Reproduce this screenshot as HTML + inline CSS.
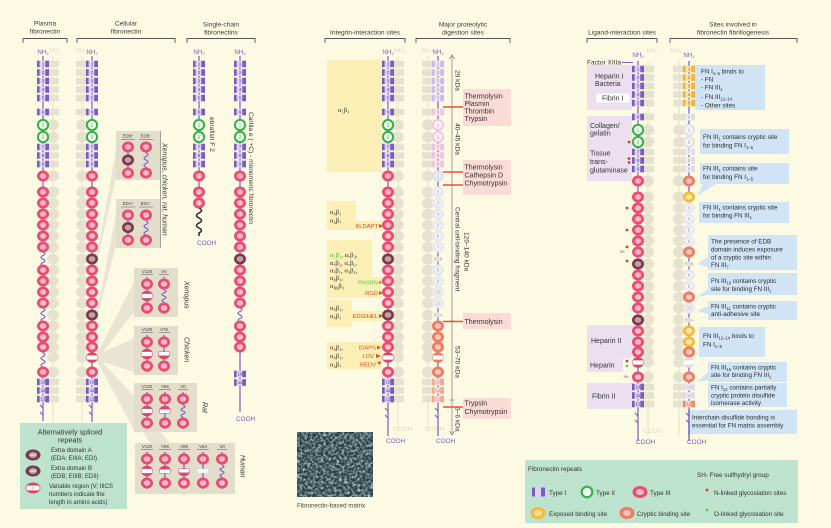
<!DOCTYPE html>
<html><head><meta charset="utf-8"><style>
html,body{margin:0;padding:0;background:#fdfae4}
svg{display:block}
text{font-family:"Liberation Sans","DejaVu Sans",sans-serif}
.h{font-size:6.6px;fill:#3b3b3b;text-anchor:middle}
.n text{font-size:4.4px;text-anchor:middle;fill:#fff}
.ni text{font-size:4.2px;text-anchor:middle;fill:#4f338f}
.n2 text{font-size:4.4px;text-anchor:middle;fill:#2c9a40}
.ng text{font-size:4.4px;text-anchor:middle;fill:#9a98a6}
.sp{stroke:#7a5bbf;stroke-width:1.2;fill:none}
.wv{stroke:#7a5bbf;stroke-width:1.1;fill:none}
.nh{font-size:6.2px;fill:#7a5bbf;text-anchor:middle}
.nhg{font-size:6.2px;fill:#dedac6;text-anchor:middle}
.co{font-size:6.4px;fill:#7a5bbf}
.cog{font-size:6.4px;fill:#dedac6}
.t7{font-size:7px;fill:#333}
.b{font-size:6.3px;fill:#2d2d2d}
.sm{font-size:4.4px;fill:#444;text-anchor:middle}
.al{font-family:"Liberation Serif","DejaVu Serif",serif;font-size:6.6px;fill:#333}
.or{font-size:5.8px;fill:#e0501c;text-anchor:end}
.vt{font-size:6.6px;fill:#333}
.it{font-size:7px;fill:#333;font-style:italic}
.lg{font-size:6.3px;fill:#333}
</style></head><body>
<svg width="831" height="528" viewBox="0 0 831 528" xmlns="http://www.w3.org/2000/svg">
<defs>
<g id="t1"><rect x="-6" y="-3.3" width="12" height="6.6" fill="#ddd2f1"/><rect x="-6" y="-3.3" width="2.6" height="6.6" fill="#7b5bc0"/><rect x="2.3" y="-3.3" width="3.7" height="6.6" fill="#7b5bc0"/></g>
<g id="t1p"><rect x="-6" y="-3.3" width="12" height="6.6" fill="#ebe3f6"/><rect x="-6" y="-3.3" width="2.6" height="6.6" fill="#cbb9e8"/><rect x="2.3" y="-3.3" width="3.7" height="6.6" fill="#cbb9e8"/></g>
<g id="t1k"><rect x="-6" y="-3.3" width="12" height="6.6" fill="#f8e2f0"/><rect x="-6" y="-3.3" width="2.6" height="6.6" fill="#efc2de"/><rect x="2.3" y="-3.3" width="3.7" height="6.6" fill="#efc2de"/></g>
<g id="t1s"><rect x="-6" y="-3.3" width="12" height="6.6" fill="#fcdcd0"/><rect x="-6" y="-3.3" width="2.6" height="6.6" fill="#f4a690"/><rect x="2.3" y="-3.3" width="3.7" height="6.6" fill="#f4a690"/></g>
<g id="t1y"><rect x="-6" y="-3.3" width="12" height="6.6" fill="#fce3a4"/><rect x="-6" y="-3.3" width="2.6" height="6.6" fill="#f2b43a"/><rect x="2.3" y="-3.3" width="3.7" height="6.6" fill="#f2b43a"/></g>
<g id="t1g"><rect x="-6" y="-3.3" width="12" height="6.6" fill="#efeef3"/><rect x="-6" y="-3.3" width="2.6" height="6.6" fill="#dedde6"/><rect x="2.3" y="-3.3" width="3.7" height="6.6" fill="#dedde6"/></g>
<g id="t1c"><rect x="-6" y="-3.3" width="12" height="6.6" fill="#fcd6c8"/><rect x="-6" y="-3.3" width="2.6" height="6.6" fill="#f08b70"/><rect x="2.3" y="-3.3" width="3.7" height="6.6" fill="#f08b70"/></g>
<g id="t2"><circle r="5.1" fill="#f0f9ee" stroke="#35b14b" stroke-width="2"/></g>
<g id="t2k"><circle r="5.1" fill="#fdf0f7" stroke="#f3c3de" stroke-width="1.8"/></g>
<g id="t2g"><circle r="5.1" fill="#f4f3f7" stroke="#e0dfe7" stroke-width="1.8"/></g>
<g id="t3"><ellipse rx="6" ry="5.5" fill="#eb4b6f"/><ellipse rx="3.3" ry="2.9" fill="#f6a8bb"/></g>
<g id="t3b"><ellipse rx="6" ry="5.5" fill="#dde0f0"/><ellipse rx="3.3" ry="2.9" fill="#eff0f8"/></g>
<g id="t3g"><ellipse rx="6" ry="5.5" fill="#e9e8ef"/><ellipse rx="3.3" ry="2.9" fill="#f5f4f8"/></g>
<g id="t3s"><ellipse rx="6" ry="5.5" fill="#f07a62"/><ellipse rx="3.3" ry="2.9" fill="#f9b9a8"/></g>
<g id="t3y"><ellipse rx="6" ry="5.5" fill="#f5ba38"/><ellipse rx="3.3" ry="2.9" fill="#fde19a"/></g>
<g id="ed"><ellipse rx="6" ry="5.5" fill="#7a3a4c"/><ellipse rx="3.3" ry="2.9" fill="#c4a0aa"/></g>
<g id="v"><ellipse rx="6" ry="5.3" fill="#d8486a"/><rect x="-5.4" y="-2.1" width="10.8" height="4.2" rx="1" fill="#fff"/></g>
<g id="vh"><path d="M-6 0A6 5.3 0 0 1 6 0Z" fill="#d8486a"/><rect x="-5.6" y="-1.8" width="11.2" height="4.2" rx="1" fill="#fff" stroke="#d8486a" stroke-width=".5"/></g>
<g id="vl"><path d="M-6 0A6 5.3 0 0 0 6 0Z" fill="#d8486a"/><rect x="-5.6" y="-2.4" width="11.2" height="4.2" rx="1" fill="#fff" stroke="#d8486a" stroke-width=".5"/></g>
<g id="vw"><rect x="-5.6" y="-2" width="11.2" height="4" rx="1" fill="#fff" stroke="#ccc" stroke-width=".4"/></g>
<g id="vs"><ellipse rx="6" ry="5.3" fill="#f07a62"/><rect x="-5.4" y="-2.1" width="10.8" height="4.2" rx="1" fill="#fff"/></g>
<g id="vg"><ellipse rx="6" ry="5.3" fill="#dddce5"/><rect x="-5.4" y="-2.1" width="10.8" height="4.2" rx="1" fill="#fff"/></g>
<g id="gI"><rect x="-6" y="-3.3" width="12" height="6.6" fill="#e6e2cf"/></g>
<g id="gC"><ellipse rx="6" ry="5.5" fill="#e6e2cf"/></g>
<g id="top">
<use href="#t1" y="64"/><use href="#t1" y="72.5"/><use href="#t1" y="81"/><use href="#t1" y="89.5"/><use href="#t1" y="98"/>
<use href="#t1" y="112"/><use href="#t2" y="125"/><use href="#t2" y="137"/>
<use href="#t1" y="147"/><use href="#t1" y="155.5"/><use href="#t1" y="164"/>
</g>
<g id="midF">
<use href="#t3" y="176"/><use href="#t3" y="192"/><use href="#t3" y="203"/><use href="#t3" y="214"/><use href="#t3" y="225"/><use href="#t3" y="236"/><use href="#t3" y="247"/>
<use href="#ed" y="259"/>
<use href="#t3" y="270"/><use href="#t3" y="281"/><use href="#t3" y="292"/><use href="#t3" y="303"/>
<use href="#ed" y="315"/>
<use href="#t3" y="326"/><use href="#t3" y="337"/><use href="#t3" y="347"/>
<use href="#v" y="357.5"/>
<use href="#t3" y="372"/>
<use href="#t1" y="382"/><use href="#t1" y="390.5"/><use href="#t1" y="399"/>
</g>
<g id="ghost">
<path d="M0 56V430" stroke="#e6e2cf" stroke-width="1.2"/>
<use href="#gI" y="64"/><use href="#gI" y="72.5"/><use href="#gI" y="81"/><use href="#gI" y="89.5"/><use href="#gI" y="98"/><use href="#gI" y="112"/>
<use href="#gC" y="125"/><use href="#gC" y="137"/>
<use href="#gI" y="147"/><use href="#gI" y="155.5"/><use href="#gI" y="164"/>
<use href="#gC" y="176"/><use href="#gC" y="192"/><use href="#gC" y="203"/><use href="#gC" y="214"/><use href="#gC" y="225"/><use href="#gC" y="236"/><use href="#gC" y="247"/><use href="#gC" y="259"/><use href="#gC" y="270"/><use href="#gC" y="281"/><use href="#gC" y="292"/><use href="#gC" y="303"/><use href="#gC" y="315"/><use href="#gC" y="326"/><use href="#gC" y="337"/><use href="#gC" y="347"/><use href="#gC" y="357"/><use href="#gC" y="372"/>
<use href="#gI" y="382"/><use href="#gI" y="390.5"/><use href="#gI" y="399"/>
</g>
<filter id="tex" x="0" y="0" width="1" height="1">
<feTurbulence type="fractalNoise" baseFrequency="0.38" numOctaves="3" seed="7" result="n"/>
<feColorMatrix in="n" type="matrix" values="0 0 0 0 0.66  0 0 0 0 0.80  0 0 0 0 0.80  2.0 0 0 0 -0.78"/>
</filter>
</defs>

<rect width="831" height="528" fill="#fdfae4"/>

<!-- HEADERS -->
<text class="h" x="45" y="25.5">Plasma</text><text class="h" x="45" y="33.5">fibronectin</text>
<text class="h" x="126" y="25.5">Cellular</text><text class="h" x="126" y="33.5">fibronectin</text>
<text class="h" x="221" y="26.5">Single-chain</text><text class="h" x="221" y="34.5">fibronectins</text>
<text class="h" x="365" y="34.3">Integrin-interaction sites</text>
<text class="h" x="463" y="26.5">Major proteolytic</text><text class="h" x="463" y="34.3">digestion sites</text>
<text class="h" x="622" y="34.3">Ligand-interaction sites</text>
<text class="h" x="733" y="26.5">Sites involved in</text><text class="h" x="733" y="34.3">fibronectin fibrillogenesis</text>
<g stroke="#555" stroke-width=".9" fill="none">
<path d="M23 43V38.5H67V43"/><path d="M77 43V38.5H175V43"/><path d="M187 43V38.5H255V43"/>
<path d="M325 43V38.5H405V43"/><path d="M416 43V38.5H510V43"/>
<path d="M587 43V38.5H657V43"/><path d="M670 43V38.5H797V43"/>
</g>

<!-- LEFT PANEL: fans and boxes -->
<g fill="#e6e2cf" opacity=".85">
<polygon points="97,256 97,262 116,178 116,150"/>
<polygon points="97,312 97,318 116,246 116,214"/>
<polygon points="97,354 97,360 134,312 134,282"/>
<polygon points="97,355 97,360 134,372 134,338"/>
<polygon points="97,356 97,361 134,430 134,396"/>
<polygon points="97,357 97,362 150,443 170,443"/>
</g>
<g fill="#e2decb">
<rect x="116" y="131" width="44" height="49"/>
<rect x="116" y="199" width="44" height="49"/>
<rect x="134" y="268" width="44" height="49"/>
<rect x="134" y="326" width="44" height="49"/>
<rect x="134" y="383" width="63" height="49"/>
<rect x="135" y="443" width="100" height="51"/>
</g>
<path d="M160.5 131V248" stroke="#666" stroke-width=".6"/>
<!-- EDB box -->
<text class="sm" x="128" y="137.5">EDB<tspan font-size="3" dy="-1.5">+</tspan></text><text class="sm" x="146" y="137.5">EDB<tspan font-size="3" dy="-1.5">−</tspan></text>
<path d="M121 139.5H135M139 139.5H153" stroke="#555" stroke-width=".5"/>
<path d="M128 142V178M146 142V153M146 167V178" class="sp"/>
<path d="M146 153q4 1.75 0 3.5t0 3.5t0 3.5t0 3.5" class="wv"/>
<use href="#t3" x="128" y="147"/><use href="#ed" x="128" y="160"/><use href="#t3" x="128" y="173"/>
<use href="#t3" x="146" y="147"/><use href="#t3" x="146" y="173"/>
<g class="n"><text x="128" y="148.5">7</text><text x="128" y="174.5">8</text><text x="146" y="148.5">7</text><text x="146" y="174.5">8</text></g>
<!-- EDA box -->
<text class="sm" x="128" y="205">EDA<tspan font-size="3" dy="-1.5">+</tspan></text><text class="sm" x="146" y="205">EDA<tspan font-size="3" dy="-1.5">−</tspan></text>
<path d="M121 207H135M139 207H153" stroke="#555" stroke-width=".5"/>
<path d="M128 210V246M146 210V221M146 235V246" class="sp"/>
<path d="M146 221q4 1.75 0 3.5t0 3.5t0 3.5t0 3.5" class="wv"/>
<use href="#t3" x="128" y="215"/><use href="#ed" x="128" y="227.5"/><use href="#t3" x="128" y="240"/>
<use href="#t3" x="146" y="215"/><use href="#t3" x="146" y="240"/>
<g class="n"><text x="128" y="216.5">11</text><text x="128" y="241.5">12</text><text x="146" y="216.5">11</text><text x="146" y="241.5">12</text></g>
<text class="it" transform="translate(162.5 143) rotate(90)">Xenopus, chicken, rat, human</text>
<!-- Xenopus -->
<text class="sm" x="147" y="273">V120</text><text class="sm" x="164" y="273">V0</text>
<path d="M141 274.5H153M159 274.5H169" stroke="#555" stroke-width=".5"/>
<path d="M147 277V314M164 277V290M164 302V314" class="sp"/>
<path d="M164 290q4 1.5 0 3t0 3t0 3t0 3" class="wv"/>
<use href="#t3" x="147" y="284"/><use href="#v" x="147" y="296"/><use href="#t3" x="147" y="308"/>
<use href="#t3" x="164" y="284"/><use href="#t3" x="164" y="308"/>
<g class="n"><text x="147" y="285.5">14</text><text x="147" y="309.5">15</text><text x="164" y="285.5">14</text><text x="164" y="309.5">15</text></g>
<text class="it" transform="translate(184.5 281) rotate(90)">Xenopus</text>
<!-- Chicken -->
<text class="sm" x="147" y="331">V120</text><text class="sm" x="164" y="331">V76</text>
<path d="M141 332.5H153M159 332.5H170" stroke="#555" stroke-width=".5"/>
<path d="M147 335V372M164 335V372" class="sp"/>
<use href="#t3" x="147" y="342"/><use href="#v" x="147" y="354"/><use href="#t3" x="147" y="366"/>
<use href="#t3" x="164" y="342"/><use href="#vl" x="164" y="354"/><use href="#t3" x="164" y="366"/>
<g class="n"><text x="147" y="343.5">14</text><text x="147" y="367.5">15</text><text x="164" y="343.5">14</text><text x="164" y="367.5">15</text></g>
<text class="it" transform="translate(184.5 337) rotate(90)">Chicken</text>
<!-- Rat -->
<text class="sm" x="147" y="388">V120</text><text class="sm" x="165" y="388">V95</text><text class="sm" x="183" y="388">V0</text>
<path d="M141 389.5H153M159 389.5H171M178 389.5H188" stroke="#555" stroke-width=".5"/>
<path d="M147 392V429M165 392V429M183 392V405M183 417V429" class="sp"/>
<path d="M183 405q4 1.5 0 3t0 3t0 3t0 3" class="wv"/>
<use href="#t3" x="147" y="399"/><use href="#v" x="147" y="411"/><use href="#t3" x="147" y="423"/>
<use href="#t3" x="165" y="399"/><use href="#vh" x="165" y="411"/><use href="#t3" x="165" y="423"/>
<use href="#t3" x="183" y="399"/><use href="#t3" x="183" y="423"/>
<g class="n"><text x="147" y="400.5">14</text><text x="147" y="424.5">15</text><text x="165" y="400.5">14</text><text x="165" y="424.5">15</text><text x="183" y="400.5">14</text><text x="183" y="424.5">15</text></g>
<text class="it" transform="translate(202.5 402) rotate(90)">Rat</text>
<!-- Human -->
<text class="sm" x="147" y="448">V120</text><text class="sm" x="165" y="448">V95</text><text class="sm" x="184" y="448">V89</text><text class="sm" x="203" y="448">V64</text><text class="sm" x="222" y="448">V0</text>
<path d="M141 449.5H153M159 449.5H171M178 449.5H190M197 449.5H209M217 449.5H227" stroke="#555" stroke-width=".5"/>
<path d="M147 452V489M165 452V489M184 452V489M203 452V489M222 452V465M222 477V489" class="sp"/>
<path d="M222 465q4 1.5 0 3t0 3t0 3t0 3" class="wv"/>
<use href="#t3" x="147" y="459"/><use href="#v" x="147" y="471"/><use href="#t3" x="147" y="483"/>
<use href="#t3" x="165" y="459"/><use href="#vh" x="165" y="471"/><use href="#t3" x="165" y="483"/>
<use href="#t3" x="184" y="459"/><use href="#vl" x="184" y="471"/><use href="#t3" x="184" y="483"/>
<use href="#t3" x="203" y="459"/><use href="#vw" x="203" y="471"/><use href="#t3" x="203" y="483"/>
<use href="#t3" x="222" y="459"/><use href="#t3" x="222" y="483"/>
<g class="n"><text x="147" y="460.5">14</text><text x="147" y="484.5">15</text><text x="165" y="460.5">14</text><text x="165" y="484.5">15</text><text x="184" y="460.5">14</text><text x="184" y="484.5">15</text><text x="203" y="460.5">14</text><text x="203" y="484.5">15</text><text x="222" y="460.5">14</text><text x="222" y="484.5">15</text></g>
<text class="it" transform="translate(240.5 455) rotate(90)">Human</text>

<!-- CHAIN A plasma x=43 -->
<use href="#ghost" x="53"/>
<text class="nhg" x="55" y="52.5">NH<tspan font-size="4" dy="1.2">2</tspan></text>
<text class="nh" x="43" y="54">NH<tspan font-size="4" dy="1.2">2</tspan></text>
<path d="M43 56V252M43 266V308M43 322V353M43 367V421" class="sp"/>
<path d="M43 252q4 1.75 0 3.5t0 3.5t0 3.5t0 3.5M43 308q4 1.75 0 3.5t0 3.5t0 3.5t0 3.5M43 353q4 1.75 0 3.5t0 3.5t0 3.5t0 3.5M43 408l-3 -3M43 415l-3 -3" class="wv"/>
<use href="#top" x="43"/>
<g transform="translate(43 0)">
<use href="#t3" y="176"/><use href="#t3" y="192"/><use href="#t3" y="203"/><use href="#t3" y="214"/><use href="#t3" y="225"/><use href="#t3" y="236"/><use href="#t3" y="247"/>
<use href="#t3" y="270"/><use href="#t3" y="281"/><use href="#t3" y="292"/><use href="#t3" y="303"/>
<use href="#t3" y="326"/><use href="#t3" y="337"/><use href="#t3" y="347"/><use href="#t3" y="372"/>
<use href="#t1" y="382"/><use href="#t1" y="390.5"/><use href="#t1" y="399"/>
<g class="ni"><text y="65.5">1</text><text y="74">2</text><text y="82.5">3</text><text y="91">4</text><text y="99.5">5</text><text y="113.5">6</text><text y="148.5">7</text><text y="157">8</text><text y="165.5">9</text><text y="383.5">10</text><text y="392">11</text><text y="400.5">12</text></g>
<g class="n2"><text y="126.5">1</text><text y="138.5">2</text></g>
<g class="n"><text y="177.5">1</text><text y="193.5">2</text><text y="204.5">3</text><text y="215.5">4</text><text y="226.5">5</text><text y="237.5">6</text><text y="248.5">7</text><text y="271.5">8</text><text y="282.5">9</text><text y="293.5">10</text><text y="304.5">11</text><text y="327.5">12</text><text y="338.5">13</text><text y="348.5">14</text><text y="373.5">15</text></g>
</g>

<!-- CHAIN B cellular x=92 -->
<use href="#ghost" x="82"/>
<text class="nhg" x="81" y="52.5">NH<tspan font-size="4" dy="1.2">2</tspan></text>
<text class="nh" x="92" y="54">NH<tspan font-size="4" dy="1.2">2</tspan></text>
<path d="M92 56V422" class="sp"/>
<path d="M92 408l-3 -3M92 415l-3 -3" class="wv"/>
<use href="#top" x="92"/><use href="#midF" x="92"/>
<g transform="translate(92 0)">
<g class="ni"><text y="65.5">1</text><text y="74">2</text><text y="82.5">3</text><text y="91">4</text><text y="99.5">5</text><text y="113.5">6</text><text y="148.5">7</text><text y="157">8</text><text y="165.5">9</text><text y="383.5">10</text><text y="392">11</text><text y="400.5">12</text></g>
<g class="n2"><text y="126.5">1</text><text y="138.5">2</text></g>
<g class="n"><text y="177.5">1</text><text y="193.5">2</text><text y="204.5">3</text><text y="215.5">4</text><text y="226.5">5</text><text y="237.5">6</text><text y="248.5">7</text><text y="271.5">8</text><text y="282.5">9</text><text y="293.5">10</text><text y="304.5">11</text><text y="327.5">12</text><text y="338.5">13</text><text y="348.5">14</text><text y="373.5">15</text></g>
</g>

<!-- CHAIN C zebrafish x=199 -->
<text class="nh" x="199" y="54">NH<tspan font-size="4" dy="1.2">2</tspan></text>
<path d="M199 56V209" class="sp"/>
<path d="M199 208q5 2.5 0 5t0 5t0 5t0 5t0 5V236" stroke="#222" stroke-width="1.5" fill="none"/>
<use href="#top" x="199"/>
<g transform="translate(199 0)">
<use href="#t3" y="176"/><use href="#t3" y="192"/><use href="#t3" y="203"/>
<g class="ni"><text y="65.5">1</text><text y="74">2</text><text y="82.5">3</text><text y="91">4</text><text y="99.5">5</text><text y="113.5">6</text><text y="148.5">7</text><text y="157">8</text><text y="165.5">9</text></g>
<g class="n2"><text y="126.5">1</text><text y="138.5">2</text></g>
<g class="n"><text y="177.5">1</text><text y="193.5">2</text><text y="204.5">3</text></g>
</g>
<text class="co" x="197" y="245">COOH</text>
<text class="vt" font-size="7" transform="translate(210 117) rotate(90)">ebrafish F 2</text>

<!-- CHAIN D cartilage x=240 -->
<text class="nh" x="240" y="54">NH<tspan font-size="4" dy="1.2">2</tspan></text>
<path d="M240 56V308M240 322V412" class="sp"/>
<path d="M240 308q4 1.75 0 3.5t0 3.5t0 3.5t0 3.5" class="wv"/>
<use href="#top" x="240"/>
<g transform="translate(240 0)">
<use href="#t3" y="176"/><use href="#t3" y="192"/><use href="#t3" y="203"/><use href="#t3" y="214"/><use href="#t3" y="225"/><use href="#t3" y="236"/><use href="#t3" y="247"/>
<use href="#ed" y="259"/>
<use href="#t3" y="270"/><use href="#t3" y="281"/><use href="#t3" y="292"/><use href="#t3" y="303"/>
<use href="#t3" y="326"/><use href="#t3" y="337"/><use href="#t3" y="347"/>
<use href="#t1" y="374"/><use href="#t1" y="382.5"/>
<g class="ni"><text y="65.5">1</text><text y="74">2</text><text y="82.5">3</text><text y="91">4</text><text y="99.5">5</text><text y="113.5">6</text><text y="148.5">7</text><text y="157">8</text><text y="165.5">9</text><text y="375.5">10</text><text y="384">11</text></g>
<g class="n2"><text y="126.5">1</text><text y="138.5">2</text></g>
<g class="n"><text y="177.5">1</text><text y="193.5">2</text><text y="204.5">3</text><text y="215.5">4</text><text y="226.5">5</text><text y="237.5">6</text><text y="248.5">7</text><text y="271.5">8</text><text y="282.5">9</text><text y="293.5">10</text><text y="304.5">11</text><text y="327.5">12</text><text y="338.5">13</text><text y="348.5">15</text></g>
</g>
<text class="co" x="236" y="421">COOH</text>
<text class="vt" transform="translate(249 112) rotate(90)">Cartila e ( +C) - monomeric fibronectin</text>

<!-- LEFT LEGEND -->
<rect x="20" y="423" width="107" height="86" fill="#bde3cf"/>
<text x="70" y="434.5" font-size="7.3" fill="#333" text-anchor="middle">Alternatively spliced</text>
<text x="70" y="442.5" font-size="7.3" fill="#333" text-anchor="middle">repeats</text>
<ellipse cx="33" cy="455" rx="7.5" ry="5.5" fill="#7a3a4c"/><ellipse cx="33" cy="455" rx="4" ry="3" fill="#c4a0aa"/>
<text x="33" y="456.2" font-size="3" fill="#fff" text-anchor="middle">EDA</text>
<ellipse cx="33" cy="471" rx="7.5" ry="5.5" fill="#7a3a4c"/><ellipse cx="33" cy="471" rx="4" ry="3" fill="#c4a0aa"/>
<text x="33" y="472.2" font-size="3" fill="#fff" text-anchor="middle">EDB</text>
<ellipse cx="33" cy="488" rx="7.5" ry="5.5" fill="#d8486a"/><rect x="26.5" y="485.6" width="13" height="4.8" rx="1" fill="#fff"/>
<text x="33" y="489.4" font-size="3.4" fill="#d8486a" text-anchor="middle">V</text>
<g font-size="6" fill="#333">
<text x="51" y="452">Extra domain A</text><text x="51" y="460">(EDA; EIIIA; EDI)</text>
<text x="51" y="470">Extra domain B</text><text x="51" y="478">(EDB; EIIIB; EDII)</text>
<text x="49" y="488">Variable region (V; IIICS</text><text x="49" y="496">numbers indicate the</text><text x="49" y="504">length in amino acids)</text>
</g>

<!-- MIDDLE PANEL: integrin -->
<g fill="#fcefb6">
<rect x="327" y="60" width="55" height="112"/>
<polygon points="327,201 356,201 356,221 382,221 382,230 327,230"/>
<polygon points="327,240 372,240 372,277 382,277 382,298 327,298"/>
<polygon points="327,300 352,300 352,311 382,311 382,321 352,321 352,327 327,327"/>
<rect x="327" y="342" width="55" height="27"/>
</g>
<text class="al" x="338" y="112">α₅β₁</text>
<text class="al" x="330" y="214">α₄β₁</text><text class="al" x="330" y="222.5">α₄β₇</text>
<text class="al" x="330" y="257"><tspan fill="#4caf3c">α₅β₁</tspan>, αᵥβ₃,</text>
<text class="al" x="330" y="265">αᵥβ₅, αᵥβ₆,</text>
<text class="al" x="330" y="272.5">αᵥβ₁, α₃β₁,</text>
<text class="al" x="330" y="280">α₈β₁,</text>
<text class="al" x="330" y="288" fill="#4caf3c">α<tspan font-size="4.2" dy="1.3">IIb</tspan><tspan dy="-1.3">β₃</tspan></text>
<text class="al" x="330" y="310">α₉β₁,</text><text class="al" x="330" y="318">α₄β₁</text>
<text class="al" x="330" y="349.5">α₄β₁,</text><text class="al" x="330" y="358">α₄β₁,</text><text class="al" x="330" y="366.5">α₄β₇</text>
<text class="or" x="378" y="228">KLDAPT</text>
<text class="or" x="378" y="284.5" style="fill:#6cc04a">PHSRN</text>
<text class="or" x="378" y="295">RGD</text>
<text class="or" x="378" y="318">EDGIHEL</text>
<text class="or" x="376" y="349.5">IDAPS</text>
<text class="or" x="374" y="358">LDV</text>
<text class="or" x="376" y="366.5">REDV</text>
<g fill="#e0501c">
<polygon points="379,224 383,226 379,228"/><polygon points="379,291 383,293 379,295"/><polygon points="379,314 383,316 379,318"/>
<polygon points="377,345.5 381,347.5 377,349.5"/><polygon points="376,354 381,356 376,358"/><polygon points="377,362.5 381,361 380,365"/>
</g>
<polygon points="379,280.5 383,282.5 379,284.5" fill="#6cc04a"/>

<!-- CHAIN E integrin x=388 -->
<use href="#ghost" x="398"/>
<text class="nhg" x="400" y="52.5">NH<tspan font-size="4" dy="1.2">2</tspan></text>
<text class="cog" x="393" y="431">COOH</text>
<text class="nh" x="388" y="54">NH<tspan font-size="4" dy="1.2">2</tspan></text>
<path d="M388 56V436" class="sp"/>
<path d="M388 411l-3 -3M388 418l-3 -3" class="wv"/>
<use href="#top" x="388"/><use href="#midF" x="388"/>
<g transform="translate(388 0)">
<g class="ni"><text y="65.5">1</text><text y="74">2</text><text y="82.5">3</text><text y="91">4</text><text y="99.5">5</text><text y="113.5">6</text><text y="148.5">7</text><text y="157">8</text><text y="165.5">9</text><text y="383.5">10</text><text y="392">11</text><text y="400.5">12</text></g>
<g class="n2"><text y="126.5">1</text><text y="138.5">2</text></g>
<g class="n"><text y="177.5">1</text><text y="193.5">2</text><text y="204.5">3</text><text y="215.5">4</text><text y="226.5">5</text><text y="237.5">6</text><text y="248.5">7</text><text y="271.5">8</text><text y="282.5">9</text><text y="293.5">10</text><text y="304.5">11</text><text y="327.5">12</text><text y="338.5">13</text><text y="348.5">14</text><text y="373.5">15</text></g>
</g>
<text class="co" x="386" y="443">COOH</text>

<!-- matrix image -->
<rect x="297" y="432" width="76" height="65" fill="#283f45"/>
<rect x="297" y="432" width="76" height="65" fill="#fff" filter="url(#tex)"/>
<text x="297" y="507.5" font-size="6.2" fill="#444">Fibronectin-based matrix</text>

<!-- CHAIN F proteolytic x=438 -->
<use href="#ghost" x="428"/>
<text class="nhg" x="427" y="52.5">NH<tspan font-size="4" dy="1.2">2</tspan></text>
<text class="cog" x="425" y="431">COOH</text>
<text class="nh" x="438" y="54">NH<tspan font-size="4" dy="1.2">2</tspan></text>
<path d="M438 56V436" class="sp"/>
<path d="M438 411l-3 -3M438 418l-3 -3" class="wv"/>
<g transform="translate(438 0)">
<use href="#t1p" y="64"/><use href="#t1p" y="72.5"/><use href="#t1p" y="81"/><use href="#t1p" y="89.5"/><use href="#t1p" y="98"/>
<use href="#t1k" y="112"/><use href="#t2k" y="125"/><use href="#t2k" y="137"/>
<use href="#t1k" y="147"/><use href="#t1k" y="155.5"/><use href="#t1k" y="164"/>
<use href="#t3b" y="176"/>
<use href="#t3g" y="192"/><use href="#t3g" y="203"/><use href="#t3g" y="214"/><use href="#t3g" y="225"/><use href="#t3g" y="236"/><use href="#t3g" y="247"/>
<rect x="-6" y="256.5" width="12" height="5" fill="#fdfae4"/>
<use href="#t3g" y="270"/><use href="#t3g" y="281"/><use href="#t3g" y="292"/><use href="#t3g" y="303"/>
<rect x="-6" y="312.5" width="12" height="5" fill="#fdfae4"/>
<use href="#t3s" y="326"/><use href="#t3s" y="337"/><use href="#t3s" y="347"/>
<use href="#vs" y="357.5"/><use href="#t3s" y="372"/>
<use href="#t1s" y="382"/><use href="#t1s" y="390.5"/><use href="#t1s" y="399"/>
<g class="ng"><text y="65.5">1</text><text y="74">2</text><text y="82.5">3</text><text y="91">4</text><text y="99.5">5</text><text y="113.5">6</text><text y="126.5">1</text><text y="138.5">2</text><text y="148.5">7</text><text y="157">8</text><text y="165.5">9</text><text y="177.5">1</text><text y="193.5">2</text><text y="204.5">3</text><text y="215.5">4</text><text y="226.5">5</text><text y="237.5">6</text><text y="248.5">7</text><text y="260.5">EDB</text><text y="271.5">8</text><text y="282.5">9</text><text y="293.5">10</text><text y="304.5">11</text><text y="316.5">EDA</text><text y="383.5">10</text><text y="392">11</text><text y="400.5">12</text></g>
<g class="n"><text y="327.5">12</text><text y="338.5">13</text><text y="348.5">14</text><text y="373.5">15</text></g>
</g>
<text class="co" x="436" y="443">COOH</text>
<!-- scale line -->
<g stroke="#8a8a8a" stroke-width=".8" fill="none">
<path d="M452 56V434"/>
<path d="M449.5 59L452 55L454.5 59M449.5 431L452 435L454.5 431"/>
<path d="M449.5 107H454.5M449.5 172H454.5M449.5 321H454.5M449.5 400H454.5"/>
</g>
<text class="vt" transform="translate(455.5 70) rotate(90)">29 kDa</text>
<text class="vt" transform="translate(455.5 123) rotate(90)">40–45 kDa</text>
<text class="vt" transform="translate(464.5 232) rotate(90)">120–140 kDa</text>
<text class="vt" transform="translate(455.5 207) rotate(90)">Central cell-binding fragment</text>
<text class="vt" transform="translate(455.5 346) rotate(90)">53–70 kDa</text>
<text class="vt" transform="translate(455.5 407) rotate(90)">3–6 kDa</text>
<g fill="#fadbd5">
<rect x="463" y="89" width="48" height="37"/>
<rect x="463" y="160" width="48" height="35"/>
<rect x="463" y="313" width="48" height="16"/>
<rect x="463" y="398" width="48" height="21"/>
</g>
<g stroke="#e8503a" stroke-width="1.6">
<path d="M443 107H463M443 172H463M443 185H463M443 321.5H463M443 407H463"/>
</g>
<g class="t7">
<text x="464.5" y="98.5">Thermolysin</text><text x="464.5" y="106">Plasmin</text><text x="464.5" y="113.5">Thrombin</text><text x="464.5" y="121">Trypsin</text>
<text x="464.5" y="169.5">Thermolysin</text><text x="464.5" y="177.5">Cathepsin D</text><text x="464.5" y="185.5">Chymotrypsin</text>
<text x="464.5" y="324">Thermolysin</text>
<text x="464.5" y="405.5">Trypsin</text><text x="464.5" y="414">Chymotrypsin</text>
</g>

<!-- RIGHT PANEL: ligand boxes -->
<g fill="#ecdff0">
<rect x="587" y="65" width="45" height="45"/>
<rect x="587" y="116" width="45" height="65"/>
<rect x="587" y="325" width="50" height="33"/>
<rect x="587" y="358" width="36" height="14"/>
<rect x="587" y="383" width="45" height="26"/>
</g>
<rect x="596" y="93" width="34" height="10" fill="#fff" stroke="#e0d2e6" stroke-width=".6"/>
<g class="t7">
<text x="587" y="64.5" font-size="6.6">Factor XIIIa</text>
<text x="595" y="78.5">Heparin I</text><text x="595" y="86">Bacteria</text>
<text x="602" y="100.5">Fibrin I</text>
<text x="590" y="128">Collagen/</text><text x="590" y="135.5">gelatin</text>
<text x="590" y="155.5">Tissue</text><text x="590" y="164">trans-</text><text x="590" y="172.5">glutaminase</text>
<text x="591" y="343">Heparin II</text>
<text x="590" y="367.5">Heparin</text>
<text x="592" y="398.5">Fibrin II</text>
</g>
<path d="M622 62.5H633" stroke="#7a5bbf" stroke-width="1"/>

<!-- CHAIN G ligand x=638 -->
<g transform="translate(0 5)">
<use href="#ghost" x="648"/>
<text class="nhg" x="652" y="47.5">NH<tspan font-size="4" dy="1.2">2</tspan></text>
<text class="cog" x="643" y="428">COOH</text>
<text class="nh" x="638" y="52">NH<tspan font-size="4" dy="1.2">2</tspan></text>
<path d="M638 56V436" class="sp"/>
<path d="M638 411l-3 -3M638 418l-3 -3" class="wv"/>
<use href="#top" x="638"/><use href="#midF" x="638"/>
<g transform="translate(638 0)">
<g class="ni"><text y="65.5">1</text><text y="74">2</text><text y="82.5">3</text><text y="91">4</text><text y="99.5">5</text><text y="113.5">6</text><text y="148.5">7</text><text y="157">8</text><text y="165.5">9</text><text y="383.5">10</text><text y="392">11</text><text y="400.5">12</text></g>
<g class="n2"><text y="126.5">1</text><text y="138.5">2</text></g>
<g class="n"><text y="177.5">1</text><text y="193.5">2</text><text y="204.5">3</text><text y="215.5">4</text><text y="226.5">5</text><text y="237.5">6</text><text y="248.5">7</text><text y="271.5">8</text><text y="282.5">9</text><text y="293.5">10</text><text y="304.5">11</text><text y="327.5">12</text><text y="338.5">13</text><text y="348.5">14</text><text y="373.5">15</text></g>
</g>
<text class="co" x="636" y="439">COOH</text>
</g>
<g fill="#e03a2a">
<circle cx="629" cy="142" r="1.4"/><circle cx="629" cy="158.5" r="1.4"/><circle cx="629" cy="162.5" r="1.4"/>
<circle cx="627" cy="208" r="1.4"/><circle cx="627" cy="230" r="1.4"/><circle cx="627" cy="247" r="1.4"/><circle cx="627" cy="261" r="1.4"/>
<circle cx="627" cy="361" r="1.4"/>
</g>
<circle cx="627" cy="366" r="1.3" fill="#4cc45a"/>
<text x="622" y="253" font-size="3.6" fill="#555" text-anchor="middle">SH</text>
<text x="626" y="378" font-size="3.6" fill="#555" text-anchor="middle">SH</text>

<!-- RIGHT PANEL: fibrillogenesis blue boxes -->
<g fill="#d0e4f5">
<rect x="695" y="65" width="70" height="45"/>
<rect x="700" y="129" width="89" height="25"/>
<rect x="700" y="163" width="89" height="21"/>
<polygon points="703,184 716,184 697,196"/>
<rect x="699" y="202" width="90" height="21"/>
<rect x="708" y="235" width="89" height="35"/>
<polygon points="708,257 708,267 697,264"/>
<rect x="708" y="273" width="89" height="22"/>
<polygon points="708,289 708,295 697,297"/>
<rect x="708" y="301" width="89" height="19"/>
<polygon points="708,306 708,314 697,311"/>
<rect x="699" y="327" width="66" height="30"/>
<rect x="708" y="362" width="79" height="20"/>
<polygon points="708,372 708,380 697,382"/>
<rect x="708" y="383" width="79" height="24"/>
<rect x="688" y="410" width="109" height="24"/>
</g>
<g class="b">
<text x="701" y="73.5">FN I<tspan font-size="4.2" dy="1.3">1–5</tspan><tspan dy="-1.3"> binds to</tspan></text>
<text x="701" y="81.5">- FN</text>
<text x="701" y="89.5">- FN III<tspan font-size="4.2" dy="1.3">1</tspan></text>
<text x="701" y="99">- FN III<tspan font-size="4.2" dy="1.3">12–14</tspan></text>
<text x="701" y="107.5">- Other sites</text>
<text x="703" y="139">FN III<tspan font-size="4.2" dy="1.3">1</tspan><tspan dy="-1.3"> contains cryptic site</tspan></text>
<text x="703" y="147.5">for binding FN I<tspan font-size="4.2" dy="1.3">1–5</tspan></text>
<text x="703" y="170.5">FN III<tspan font-size="4.2" dy="1.3">1</tspan><tspan dy="-1.3"> contains site</tspan></text>
<text x="703" y="179">for binding FN I<tspan font-size="4.2" dy="1.3">1–5</tspan></text>
<text x="703" y="209.5">FN III<tspan font-size="4.2" dy="1.3">1</tspan><tspan dy="-1.3"> contains cryptic site</tspan></text>
<text x="703" y="217.5">for binding FN III<tspan font-size="4.2" dy="1.3">1</tspan></text>
<text x="711" y="243.5">The presence of EDB</text>
<text x="711" y="251.5">domain induces exposure</text>
<text x="711" y="259.5">of a cryptic site within</text>
<text x="711" y="267">FN III<tspan font-size="4.2" dy="1.3">7</tspan></text>
<text x="711" y="283">FN III<tspan font-size="4.2" dy="1.3">10</tspan><tspan dy="-1.3"> contains cryptic</tspan></text>
<text x="711" y="291">site for binding FN III<tspan font-size="4.2" dy="1.3">1</tspan></text>
<text x="711" y="308.5">FN III<tspan font-size="4.2" dy="1.3">11</tspan><tspan dy="-1.3"> contains cryptic</tspan></text>
<text x="711" y="316">anti-adhesive site</text>
<text x="703" y="338">FN III<tspan font-size="4.2" dy="1.3">12–14</tspan><tspan dy="-1.3"> binds to</tspan></text>
<text x="703" y="346.5">FN I<tspan font-size="4.2" dy="1.3">1–5</tspan></text>
<text x="711" y="369.5">FN III<tspan font-size="4.2" dy="1.3">15</tspan><tspan dy="-1.3"> contains cryptic</tspan></text>
<text x="711" y="377">site for binding FN III<tspan font-size="4.2" dy="1.3">1</tspan></text>
<text x="711" y="389.5">FN I<tspan font-size="4.2" dy="1.3">12</tspan><tspan dy="-1.3"> contains partially</tspan></text>
<text x="711" y="397.5">cryptic protein disulfide</text>
<text x="711" y="405">isomerase activity</text>
<text x="692" y="419.5">Interchain disulfide bonding is</text>
<text x="692" y="427.5">essential for FN matrix assembly</text>
</g>

<!-- CHAIN H fibrillogenesis x=689 -->
<g transform="translate(0 5)">
<use href="#ghost" x="679"/>
<text class="nhg" x="676" y="47.5">NH<tspan font-size="4" dy="1.2">2</tspan></text>
<text class="nh" x="689" y="52">NH<tspan font-size="4" dy="1.2">2</tspan></text>
<path d="M689 56V406M689 432V436" class="sp"/>
<path d="M689 405V432" stroke="#7a5bbf" stroke-width="1.4"/>
<path d="M689 411l-3 -3M689 418l-3 -3" class="wv"/>
<g transform="translate(689 0)">
<use href="#t1y" y="64"/><use href="#t1y" y="72.5"/><use href="#t1y" y="81"/><use href="#t1y" y="89.5"/><use href="#t1y" y="98"/>
<use href="#t1g" y="112"/><use href="#t2g" y="125"/><use href="#t2g" y="137"/>
<use href="#t1g" y="147"/><use href="#t1g" y="155.5"/><use href="#t1g" y="164"/>
<use href="#t3s" y="176"/><use href="#t3y" y="192"/>
<use href="#t3g" y="203"/><use href="#t3g" y="214"/><use href="#t3g" y="225"/><use href="#t3g" y="236"/>
<use href="#t3s" y="247"/>
<rect x="-6" y="256.5" width="12" height="5" fill="#fdfae4"/>
<use href="#t3g" y="270"/><use href="#t3g" y="281"/><use href="#t3s" y="292"/><use href="#t3g" y="303"/>
<rect x="-6" y="312.5" width="12" height="5" fill="#fdfae4"/>
<use href="#t3y" y="326"/><use href="#t3y" y="337"/><use href="#t3s" y="347"/>
<use href="#vg" y="357.5"/><use href="#t3s" y="372"/>
<use href="#t1g" y="382"/><use href="#t1g" y="390.5"/><use href="#t1c" y="399"/>
<g class="ni"><text y="65.5" style="fill:#8a5a10">1</text><text y="74" style="fill:#8a5a10">2</text><text y="82.5" style="fill:#8a5a10">3</text><text y="91" style="fill:#8a5a10">4</text><text y="99.5" style="fill:#8a5a10">5</text></g>
<g class="ng"><text y="113.5">6</text><text y="126.5">1</text><text y="138.5">2</text><text y="148.5">7</text><text y="157">8</text><text y="165.5">9</text><text y="204.5">3</text><text y="215.5">4</text><text y="226.5">5</text><text y="237.5">6</text><text y="260.5">EDB</text><text y="271.5">8</text><text y="282.5">9</text><text y="304.5">11</text><text y="316.5">EDA</text><text y="383.5">10</text><text y="392">11</text></g>
<g class="n"><text y="177.5">1</text><text y="193.5">2</text><text y="248.5">7</text><text y="293.5">10</text><text y="327.5">12</text><text y="338.5">13</text><text y="348.5">14</text><text y="373.5">15</text><text y="400.5" style="fill:#b04a30">12</text></g>
</g>
<text class="co" x="687" y="439">COOH</text>
</g>

<!-- BOTTOM RIGHT LEGEND -->
<rect x="525" y="460" width="273" height="63" fill="#bde3cf"/>
<text class="lg" x="528" y="471">Fibronectin repeats</text>
<text class="lg" x="697" y="477">SH-  Free sulfhydryl group</text>
<rect x="532" y="487.5" width="13" height="9" fill="#ddd2f1"/><rect x="532" y="487.5" width="3" height="9" fill="#7b5bc0"/><rect x="541" y="487.5" width="4" height="9" fill="#7b5bc0"/>
<text class="lg" x="549" y="495">Type I</text>
<circle cx="587" cy="492" r="5.3" fill="#f4fbf2" stroke="#35b14b" stroke-width="2.2"/>
<text class="lg" x="596" y="495">Type II</text>
<ellipse cx="640" cy="492" rx="7.5" ry="6" fill="#eb4b6f"/><ellipse cx="640" cy="492" rx="4" ry="3" fill="#f8c0cd"/>
<text class="lg" x="650" y="495">Type III</text>
<circle cx="707" cy="490" r="1.4" fill="#e03a2a"/>
<text class="lg" x="714" y="495">N-linked glycoslation sites</text>
<ellipse cx="538" cy="513" rx="7.5" ry="6" fill="#f5ba38"/><ellipse cx="538" cy="513" rx="4" ry="3" fill="#fde19a"/>
<text class="lg" x="549" y="516">Exposed binding site</text>
<ellipse cx="627" cy="513" rx="7.5" ry="6" fill="#f07a62"/><ellipse cx="627" cy="513" rx="4" ry="3" fill="#f9c2b3"/>
<text class="lg" x="637" y="516">Cryptic binding site</text>
<circle cx="707" cy="510" r="1.3" fill="#4cc45a"/>
<text class="lg" x="714" y="516">O-linked glycoslation site</text>
</svg>
</body></html>
